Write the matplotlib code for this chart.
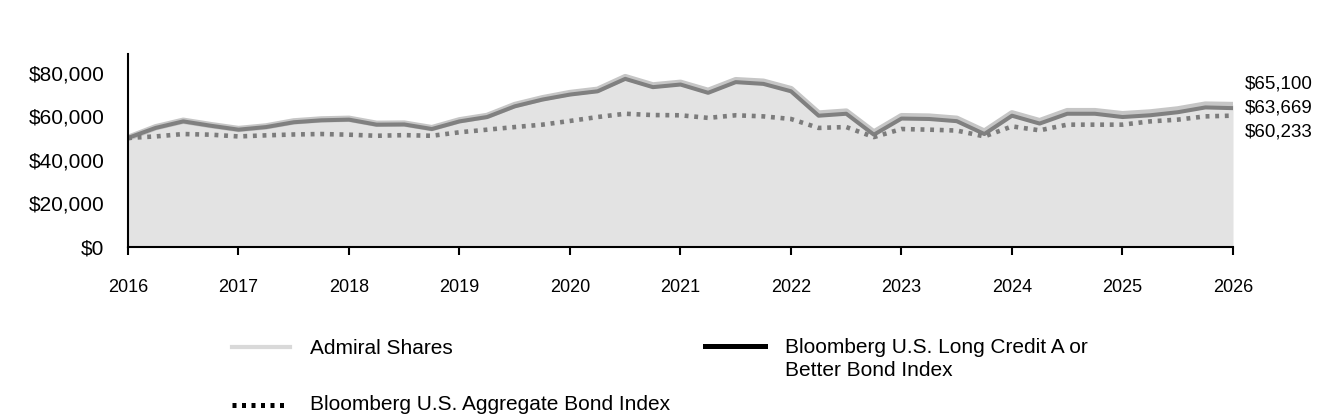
import matplotlib
matplotlib.use('Agg')
import matplotlib.pyplot as plt
from matplotlib.lines import Line2D
import numpy as np

plt.rcParams['font.family'] = ['Liberation Sans', 'DejaVu Sans']

# quarterly points, 2016 through 2026
years = [2016 + q * 0.25 for q in range(41)]

admiral = [50000, 54900, 57900, 55900, 54100, 55300, 57600, 58500, 58800, 56500,
           56600, 54500, 58100, 60100, 65100, 68200, 70600, 72100, 77900, 74100,
           75300, 71600, 76500, 75800, 72400, 61200, 62100, 52500, 60000, 59800,
           58800, 52900, 61300, 57700, 62300, 62300, 60900, 61700, 63100, 65300,
           65100]
long_credit = [50000, 54600, 57600, 55600, 53800, 55000, 57200, 58100, 58400, 56100,
               56200, 54100, 57600, 59600, 64500, 67600, 69900, 71400, 77100, 73300,
               74500, 70700, 75600, 74800, 71400, 60200, 61100, 51500, 58900, 58700,
               57700, 51800, 60200, 56600, 61100, 61100, 59600, 60400, 61800, 64000,
               63669]
aggregate = [50000, 50700, 51800, 51500, 50700, 51200, 51600, 51800, 51500, 51000,
             51300, 51000, 52600, 53800, 55000, 56100, 57800, 59600, 61100, 60500,
             60400, 59200, 60400, 59900, 58700, 54600, 55000, 50400, 54100, 53800,
             53400, 50700, 55300, 53500, 56100, 56100, 56100, 57600, 58400, 59900,
             60233]

year_ticks = list(range(2016, 2027))
value_ticks = [0, 20000, 40000, 60000, 80000]

end_labels = ['$65,100', '$63,669', '$60,233']
end_values = [admiral[-1], long_credit[-1], aggregate[-1]]

fig = plt.figure(figsize=(13.32, 4.2), dpi=100)
ax = fig.add_axes([128 / 1332, 1 - 247 / 420, (1233 - 128) / 1332, (247 - 54) / 420])

# shaded area under the fund line
ax.fill_between(years, admiral, 0, color='#e3e3e3', edgecolor='#8a8a8a', linewidth=0)
ax.plot(years, admiral, color='#c6c6c6', linewidth=4.6, solid_joinstyle='round', zorder=3)
ax.plot(years, long_credit, color='#808080', linewidth=2.9, solid_joinstyle='round', zorder=4)
ax.plot(years, aggregate, color='#7c7c7c', linewidth=3.3, linestyle=(0, (0.85, 1.25)), zorder=5)

ax.set_xlim(2016, 2026)
ax.set_ylim(0, 88500)
ax.set_xticks(year_ticks)
ax.set_xticklabels([str(y) for y in year_ticks], fontsize=13)
ax.set_yticks(value_ticks)
ax.set_yticklabels([f'${v:,.0f}' for v in value_ticks], fontsize=15)
ax.tick_params(axis='x', length=6, width=1.5, pad=17, colors='black')
ax.tick_params(axis='y', length=0, pad=17)

for side in ['top', 'right']:
    ax.spines[side].set_visible(False)
ax.spines['left'].set_linewidth(1.5)
ax.spines['bottom'].set_linewidth(1.5)
ax.spines['left'].set_zorder(6)

# stacked ending values on the right
offsets = [15.4, 0, -11.5]
for txt, val, dy in zip(end_labels, end_values, offsets):
    ax.annotate(txt, xy=(1.0, val), xycoords=('axes fraction', 'data'),
                xytext=(8.6, dy), textcoords='offset points',
                ha='left', va='center', fontsize=13.5, annotation_clip=False)

# legend drawn by hand in figure pixels
def fx(px):
    return px / 1332

def fy(py):
    return 1 - py / 420

fig.add_artist(Line2D([fx(232), fx(290)], [fy(347), fy(347)], color='#d9d9d9', linewidth=3.0))
fig.text(fx(310), fy(348), 'Admiral Shares', fontsize=15, va='center', ha='left')

fig.add_artist(Line2D([fx(705), fx(765)], [fy(346), fy(346)], color='black', linewidth=3.6))
fig.text(fx(785), fy(338), 'Bloomberg U.S. Long Credit A or\nBetter Bond Index', fontsize=15,
         va='top', ha='left', linespacing=1.28)

fig.add_artist(Line2D([fx(232), fx(287)], [fy(405), fy(405)], color='black', linewidth=3.6,
                      linestyle=(0, (0.8, 1.1))))
fig.text(fx(310), fy(405), 'Bloomberg U.S. Aggregate Bond Index', fontsize=15, va='center', ha='left')

fig.savefig('out.png', dpi=100, facecolor='white')
